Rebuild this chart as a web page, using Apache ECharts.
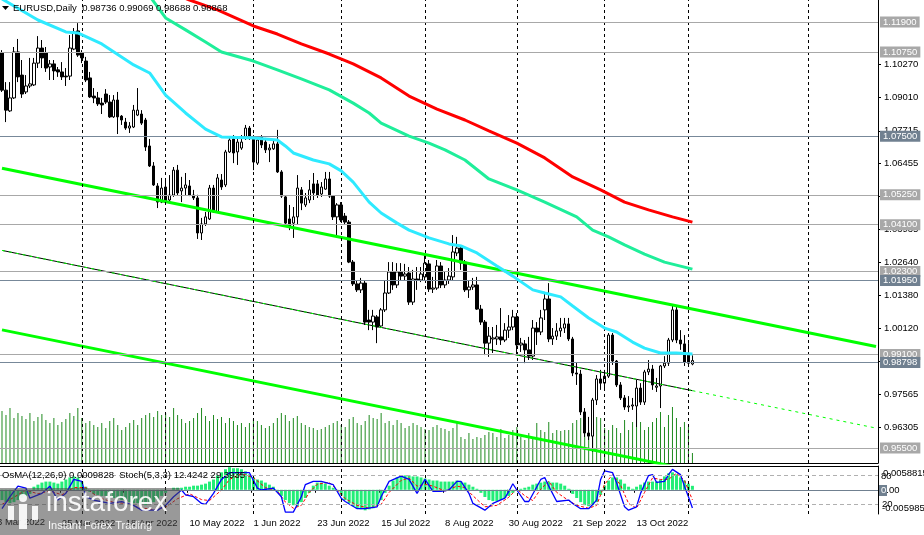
<!DOCTYPE html>
<html><head><meta charset="utf-8">
<script src="https://cdn.jsdelivr.net/npm/echarts@6/dist/echarts.min.js"></script>
<style>html,body{margin:0;padding:0;background:#fff;overflow:hidden}#c{width:924px;height:535px}</style>
</head><body><div id="c"></div><script>
// ---------- DATA ----------
const opens=[1.1071,1.0928,1.0848,1.0898,1.1075,1.0986,1.0921,1.0944,1.0948,1.1032,
1.1090,1.1071,1.1017,1.1029,1.1006,1.0998,1.0982,1.0982,1.1086,1.1156,
1.1071,1.1040,1.0975,1.0905,1.0898,1.0878,1.0913,1.0882,1.0825,1.0890,
1.0828,1.0805,1.0782,1.0786,1.0832,1.0836,1.0813,1.0713,1.0636,1.0559,
1.0497,1.0555,1.0505,1.0524,1.0620,1.0540,1.0551,1.0559,1.0524,1.0513,
1.0378,1.0413,1.0432,1.0551,1.0459,1.0582,1.0563,1.0690,1.0740,1.0690,
1.0705,1.0744,1.0782,1.0744,1.0647,1.0748,1.0728,1.0698,1.0702,1.0721,
1.0613,1.0517,1.0432,1.0416,1.0440,1.0544,1.0486,1.0505,1.0567,1.0567,
1.0528,1.0547,1.0586,1.0520,1.0440,1.0486,1.0443,1.0420,1.0266,1.0182,
1.0159,1.0185,1.0043,1.0035,1.0055,1.0020,1.0082,1.0147,1.0228,1.0178,
1.0228,1.0212,1.0224,1.0112,1.0201,1.0197,1.0209,1.0259,1.0162,1.0166,
1.0251,1.0178,1.0197,1.0209,1.0301,1.0320,1.0266,1.0159,1.0170,1.0178,
1.0085,1.0035,0.9954,0.9970,0.9970,0.9978,0.9966,1.0004,1.0016,1.0055,
0.9947,0.9951,0.9928,0.9904,1.0012,0.9997,1.0082,1.0124,0.9970,0.9981,
1.0001,1.0012,1.0028,0.9970,0.9839,0.9835,0.9689,0.9608,0.9596,0.9735,
0.9816,0.9800,0.9827,0.9985,0.9885,0.9793,0.9743,0.9708,0.9712,0.9712,
0.9781,0.9727,0.9843,0.9854,0.9784,0.9789,0.9866,0.9877,0.9966,1.0082,
0.9966,0.9951,0.9912,0.98736];
const closes=[1.0928,1.0851,1.0898,1.1075,1.0979,1.0913,1.0944,1.0952,1.1032,1.1090,
1.1052,1.1013,1.1029,1.1002,1.0998,1.0979,1.0979,1.1090,1.1152,1.1063,
1.1052,1.0967,1.0902,1.0898,1.0875,1.0871,1.0882,1.0825,1.0890,1.0825,
1.0813,1.0782,1.0790,1.0851,1.0851,1.0801,1.0709,1.0636,1.0563,1.0497,
1.0551,1.0497,1.0524,1.0620,1.0532,1.0551,1.0563,1.0524,1.0513,1.0378,
1.0413,1.0440,1.0551,1.0459,1.0590,1.0555,1.0690,1.0736,1.0686,1.0728,
1.0728,1.0782,1.0744,1.0651,1.0736,1.0717,1.0698,1.0705,1.0721,1.0613,
1.0520,1.0416,1.0405,1.0440,1.0551,1.0493,1.0513,1.0544,1.0532,1.0524,
1.0555,1.0586,1.0520,1.0440,1.0486,1.0428,1.0420,1.0266,1.0182,1.0159,
1.0185,1.0035,1.0035,1.0058,1.0016,1.0082,1.0147,1.0228,1.0178,1.0228,
1.0212,1.0220,1.0112,1.0201,1.0197,1.0220,1.0262,1.0162,1.0166,1.0251,
1.0178,1.0197,1.0212,1.0305,1.0320,1.0262,1.0159,1.0170,1.0178,1.0085,
1.0035,0.9954,0.9981,0.9974,0.9978,0.9966,1.0004,1.0016,1.0055,0.9947,
0.9954,0.9928,0.9904,1.0012,0.9997,1.0051,1.0124,0.9970,0.9981,1.0001,
1.0012,1.0028,0.9970,0.9839,0.9835,0.9689,0.9608,0.9596,0.9735,0.9816,
0.9800,0.9827,0.9985,0.9885,0.9793,0.9743,0.9708,0.9712,0.9716,0.9781,
0.9727,0.9843,0.9854,0.9793,0.9789,0.9866,0.9877,0.9966,1.0082,0.9966,
0.9951,0.9881,0.9877,0.98868];
const highs=[1.1082,1.0959,1.0959,1.1094,1.1125,1.1044,1.0986,1.1052,1.1052,1.1136,
1.1121,1.1094,1.1044,1.1044,1.1017,1.1036,1.1013,1.1140,1.1167,1.1186,
1.1082,1.1056,1.0998,1.0936,1.0921,1.0898,1.0932,1.0909,1.0909,1.0921,
1.0832,1.0821,1.0805,1.0871,1.0936,1.0851,1.0821,1.0740,1.0651,1.0570,
1.0590,1.0582,1.0601,1.0632,1.0640,1.0594,1.0609,1.0582,1.0544,1.0525,
1.0436,1.0459,1.0563,1.0563,1.0605,1.0605,1.0698,1.0748,1.0755,1.0748,
1.0755,1.0794,1.0790,1.0755,1.0744,1.0755,1.0744,1.0720,1.0736,1.0775,
1.0620,1.0524,1.0486,1.0478,1.0601,1.0555,1.0532,1.0582,1.0609,1.0582,
1.0574,1.0613,1.0613,1.0524,1.0493,1.0497,1.0455,1.0428,1.0274,1.0197,
1.0205,1.0197,1.0082,1.0082,1.0062,1.0089,1.0197,1.0266,1.0266,1.0262,
1.0262,1.0259,1.0247,1.0236,1.0247,1.0247,1.0293,1.0274,1.0209,1.0274,
1.0266,1.0228,1.0243,1.0370,1.0363,1.0332,1.0274,1.0197,1.0205,1.0209,
1.0101,1.0043,1.0016,1.0016,1.0024,1.0089,1.0031,1.0062,1.0082,1.0070,
0.9974,0.9966,0.9978,1.0043,1.0035,1.0082,1.0151,1.0185,1.0012,1.0031,
1.0051,1.0051,1.0051,0.9978,0.9881,0.9851,0.9704,0.9670,0.9743,0.9831,
0.9851,0.9851,0.9993,0.9993,0.9889,0.9804,0.9754,0.9750,0.9743,0.9812,
0.9800,0.9851,0.9889,0.9870,0.9820,0.9870,0.9904,0.9974,1.0101,1.0093,
1.0004,0.9985,0.9954,0.99069];
const lows=[1.0921,1.0805,1.0844,1.0894,1.0959,1.0898,1.0913,1.0936,1.0944,1.1013,
1.1013,1.0998,1.0967,1.0967,1.0979,1.0967,1.0944,1.0967,1.1082,1.1056,
1.1032,1.0959,1.0898,1.0878,1.0867,1.0836,1.0875,1.0821,1.0821,1.0759,
1.0794,1.0775,1.0763,1.0782,1.0828,1.0794,1.0694,1.0632,1.0559,1.0474,
1.0493,1.0486,1.0497,1.0517,1.0524,1.0497,1.0524,1.0520,1.0505,1.0355,
1.0351,1.0405,1.0428,1.0455,1.0455,1.0544,1.0555,1.0686,1.0647,1.0640,
1.0698,1.0736,1.0736,1.0620,1.0640,1.0705,1.0686,1.0651,1.0698,1.0609,
1.0513,1.0409,1.0389,1.0359,1.0409,1.0466,1.0478,1.0493,1.0505,1.0513,
1.0517,1.0544,1.0513,1.0428,1.0370,1.0420,1.0409,1.0262,1.0174,1.0151,
1.0147,1.0024,1.0004,1.0004,0.9954,1.0012,1.0074,1.0143,1.0159,1.0166,
1.0197,1.0197,1.0101,1.0101,1.0159,1.0189,1.0197,1.0151,1.0147,1.0159,
1.0166,1.0166,1.0182,1.0197,1.0289,1.0236,1.0151,1.0128,1.0159,1.0082,
1.0024,0.9908,0.9901,0.9916,0.9947,0.9947,0.9958,0.9974,1.0004,0.9908,
0.9920,0.9877,0.9889,0.9889,0.9947,0.9985,1.0043,0.9958,0.9947,0.9966,
0.9978,0.9993,0.9962,0.9827,0.9793,0.9677,0.9593,0.9581,0.9535,0.9716,
0.9774,0.9774,0.9820,0.9870,0.9785,0.9735,0.9697,0.9689,0.9697,0.9631,
0.9716,0.9716,0.9831,0.9774,0.9766,0.9704,0.9858,0.9866,0.9958,0.9954,
0.9928,0.9866,0.9866,0.98688];
// tick volumes
const volumes=[52000,48000,55000,45000,50000,47000,44000,50000,42000,46000,
49000,43000,40000,45000,38000,41000,44000,50000,47000,55000,
45000,40000,42000,38000,36000,40000,35000,42000,45000,38000,
33000,36000,40000,43000,38000,45000,48000,50000,46000,52000,
48000,50000,46000,55000,48000,44000,40000,42000,45000,50000,
55000,47000,42000,48000,44000,46000,40000,45000,42000,38000,
40000,36000,40000,44000,42000,38000,35000,37000,40000,45000,
50000,48000,42000,45000,47000,40000,38000,36000,35000,33000,
34000,36000,38000,40000,42000,38000,36000,44000,46000,40000,
38000,42000,48000,45000,44000,50000,40000,42000,38000,43000,
40000,35000,37000,40000,38000,36000,34000,33000,36000,38000,
35000,34000,32000,35000,40000,26000,24000,30000,24000,26000,
25000,28000,31000,30000,26000,34000,25000,28000,33000,36000,
26000,23000,30000,25000,40000,33000,31000,41000,30000,33000,
32000,33000,33000,40000,43000,45000,48000,33000,53000,46000,
45000,35000,33000,38000,35000,30000,43000,33000,41000,50000,
41000,33000,36000,41000,45000,51000,36000,48000,56000,45000,
36000,41000,36000,10000];

// moving averages: [bar index, price]
const maFast=[[0,1.1279],[9,1.1198],[16,1.1152],[19,1.1148],[25,1.1106],[33,1.1025],[37,1.0994],[41,1.0909],[46,1.0840],[51,1.0778],[55,1.0748],[63,1.0744],[69,1.0736],[71,1.0713],[73,1.0686],[78,1.0659],[82,1.0644],[85,1.0617],[88,1.0574],[92,1.0497],[95,1.0455],[99,1.0416],[102,1.0389],[107,1.0359],[112,1.0336],[115,1.0328],[119,1.0301],[124,1.0251],[128,1.0212],[133,1.0159],[136,1.0147],[140,1.0132],[143,1.0097],[147,1.0051],[151,1.0012],[154,0.9997],[158,0.9958],[161,0.9935],[165,0.9916],[169,0.9916],[173,0.9912]];
const maMid=[[37,1.1290],[41,1.1206],[46,1.1160],[51,1.1113],[55,1.1075],[63,1.1040],[69,1.1006],[75,1.0971],[82,1.0929],[88,1.0878],[92,1.0840],[95,1.0801],[102,1.0751],[107,1.0724],[111,1.0698],[116,1.0659],[122,1.0586],[129,1.0544],[136,1.0497],[144,1.0440],[148,1.0389],[152,1.0363],[156,1.0332],[161,1.0297],[166,1.0266],[173,1.0239]];
const maSlow=[[45,1.1287],[47,1.1275],[54,1.1237],[63,1.1175],[69,1.1144],[75,1.1106],[82,1.1067],[88,1.1029],[95,1.0975],[102,1.0905],[109,1.0855],[116,1.0813],[122,1.0771],[129,1.0724],[136,1.0667],[143,1.0594],[150,1.0544],[156,1.0497],[162,1.0467],[168,1.0440],[173,1.0420]];

// channel lines: [bar index, price]
const chanUpper=[[0,1.0627],[219,0.9941]];
const chanMid=[[0,1.0311],[173,0.9771]];
const chanMidExt=[[173,0.9771],[219,0.9627]];
const chanLower=[[0,1.0005],[219,0.9321]];

// horizontal levels
const levels=[1.11900,1.10750,1.07500,1.05250,1.04100,1.02300,1.01950,0.99100,0.98798,0.95500];
const levelSlate=[false,false,true,false,false,false,true,false,true,false];
const priceTicks=[1.11530,1.10270,1.09010,1.07715,1.06455,1.05195,1.03935,1.02640,1.01380,1.00120,0.98860,0.97565,0.96305,0.95045];
const monthStarts=[20,41,63,85,106,129,151,172,202];

// OsMA histogram
const osma=[-0.00254,-0.00305,-0.0033,-0.00305,-0.00254,-0.00203,-0.00152,-0.00102,
0.00076,0.00127,0.00178,0.00203,0.00203,0.00178,0.00152,0.00203,
0.00254,0.00305,0.0033,0.00305,0.00203,
0.00076,-0.00051,-0.00102,-0.00127,-0.00152,-0.00152,-0.00178,
-0.00203,-0.00229,-0.00254,-0.00279,-0.00305,-0.0033,-0.0033,-0.00356,-0.00381,-0.00356,-0.00305,-0.00254,-0.00152,
-0.00076,0,0.00051,0.00051,
0.00051,0.00076,0.00076,0.00102,
0.00102,0.00127,0.00152,0.00203,0.00254,
0.00356,0.00432,0.00508,0.00559,0.00533,
0.00533,0.00508,0.00457,0.00381,
0.00305,0.00254,0.00229,0.00178,0.00127,0.00076,
-0.00051,-0.00152,-0.00254,-0.0033,-0.00381,
-0.00406,-0.00305,-0.00203,-0.00076,
0.00102,0.00178,0.00178,0.00152,0.00102,
0.00051,-0.00025,
-0.00127,-0.00254,-0.0033,-0.00406,
-0.00457,-0.00483,-0.00508,-0.00483,-0.00457,-0.00381,
-0.00254,-0.00076,
0.00102,0.00229,0.00305,0.0033,
0.00356,0.00356,0.0033,0.0033,0.00305,0.00279,
0.00254,0.00229,0.00229,0.00203,0.00203,0.00203,0.00203,0.00229,0.00203,
0.00178,0.00127,0.00076,0.00025,
-0.00076,-0.00178,-0.00254,-0.00279,
-0.00279,-0.00254,-0.00203,-0.00152,-0.00076,
0,0.00025,0.00051,
0.00076,0.00127,0.00152,0.00178,
0.00203,0.00203,0.00178,0.00178,0.00152,0.00102,0.00025,
-0.00102,-0.00203,-0.00305,-0.00381,-0.00406,-0.00381,-0.00305,-0.00127,
0.00102,0.00229,0.00305,0.00305,0.00254,
0.00152,0.00076,0.00025,
0.00076,0.00127,0.00178,0.00203,0.00203,0.00203,
0.00254,0.0033,0.00406,0.00432,
0.00381,0.00305,0.00229,0.00152,0.00098];
// Stochastic main / signal: [bar index, value]
const stochMain=[[0,11],[2,36],[4,58],[6,54],[7,33],[10,43],[12,58],[14,29],[16,43],[18,72],[20,68],[21,36],[23,29],[27,22],[30,26],[33,18],[35,8],[39,8],[41,18],[43,36],[45,50],[46,40],[48,36],[50,22],[51,20],[53,43],[55,72],[57,86],[60,86],[62,86],[64,54],[65,50],[68,54],[70,36],[71,4],[73,4],[75,36],[76,61],[78,68],[80,68],[83,61],[85,33],[86,26],[89,11],[91,11],[94,15],[95,36],[97,68],[100,79],[102,72],[104,43],[105,58],[106,72],[108,47],[110,47],[112,50],[114,68],[115,68],[117,43],[118,22],[121,8],[123,22],[126,33],[127,47],[128,63],[129,50],[131,26],[132,26],[135,72],[136,76],[137,58],[139,26],[142,29],[143,22],[145,11],[147,11],[149,29],[150,72],[151,90],[153,86],[154,65],[156,15],[157,8],[159,15],[160,43],[162,80],[163,82],[164,66],[166,68],[167,82],[168,93],[170,82],[171,58],[172,36],[173,12.4]];
const stochSignal=[[0,20],[3,35],[6,50],[9,42],[12,48],[15,40],[18,55],[21,55],[24,35],[28,24],[31,22],[34,14],[38,9],[41,14],[44,32],[47,42],[50,30],[52,28],[55,50],[57,72],[60,84],[63,76],[66,55],[69,48],[71,25],[73,12],[75,18],[77,45],[79,62],[82,66],[84,50],[86,32],[89,18],[92,12],[95,20],[97,45],[100,70],[102,75],[104,58],[106,62],[108,58],[111,48],[114,58],[116,55],[118,38],[121,15],[124,18],[127,35],[129,52],[131,38],[133,28],[135,52],[137,68],[139,45],[142,28],[144,18],[147,12],[149,18],[151,62],[153,82],[155,60],[157,22],[159,12],[161,45],[163,75],[165,72],[167,72],[169,85],[171,70],[173,29.4]];

// ---------- CATEGORIES (trading days) ----------
const SLOTS=220;
const MONTHS=['Jan','Feb','Mar','Apr','May','Jun','Jul','Aug','Sep','Oct','Nov','Dec'];
const categories=[];
(function(){let d=new Date(Date.UTC(2022,2,4));
 while(categories.length<opens.length){const w=d.getUTCDay();if(w!==0&&w!==6)categories.push(d.getUTCDate()+' '+MONTHS[d.getUTCMonth()]+' '+d.getUTCFullYear());d.setUTCDate(d.getUTCDate()+1);}
 while(categories.length<SLOTS)categories.push('f'+categories.length);})();

const FONT='"Liberation Sans", Arial, sans-serif';
const candleData=opens.map((o,i)=>[o,closes[i],lows[i],highs[i]]);

const levelLines=levels.map((v,k)=>({yAxis:v,
  lineStyle:{color:levelSlate[k]?'#778899':'#a8a8a8',width:1,type:'solid'},
  label:{show:true,position:'end',distance:2,formatter:()=>v.toFixed(5),color:'#fff',
    backgroundColor:levelSlate[k]?'#708090':'#a8a8a8',padding:[1,3,0,3],fontSize:9.5,fontFamily:FONT}}));

const vLines=monthStarts.map(i=>({xAxis:i}));
const vLineStyle={color:'#000',width:1,type:[3,3]};

const chart=echarts.init(document.getElementById('c'),null,{renderer:'canvas'});
chart.setOption({
 animation:false,
 backgroundColor:'#fff',
 textStyle:{fontFamily:FONT},
 grid:[{left:0,top:0,width:878,height:463},{left:0,top:466,width:878,height:48}],
 xAxis:[
  {type:'category',gridIndex:0,data:categories,boundaryGap:true,
   axisLine:{show:true,lineStyle:{color:'#000'}},axisTick:{show:false},axisLabel:{show:false},splitLine:{show:false}},
  {type:'category',gridIndex:1,data:categories,boundaryGap:true,
   axisLine:{show:true,lineStyle:{color:'#000'}},
   axisTick:{show:true,length:3,interval:(i)=>i<=159&&(i-15)%16===0,lineStyle:{color:'#000'}},
   axisLabel:{show:true,interval:(i)=>i<=159&&(i-15)%16===0,align:'left',margin:4,color:'#000',fontSize:9.5,fontFamily:FONT},
   splitLine:{show:false}}
 ],
 yAxis:[
  {type:'value',gridIndex:0,position:'right',min:0.94925,max:1.1275,scale:true,
   axisLine:{show:true,lineStyle:{color:'#000'}},
   axisTick:{show:true,length:3,inside:false,customValues:priceTicks,lineStyle:{color:'#000'}},
   axisLabel:{show:true,customValues:priceTicks,formatter:(v)=>v.toFixed(5),color:'#000',fontSize:9.5,fontFamily:FONT,margin:6,showMinLabel:false,showMaxLabel:false},
   splitLine:{show:false}},
  {type:'value',gridIndex:1,position:'right',min:-0.005985,max:0.0058815,
   axisLine:{show:true,lineStyle:{color:'#000'}},axisTick:{show:false},axisLabel:{show:false},splitLine:{show:false}},
  {type:'value',gridIndex:1,position:'right',min:0,max:100,show:false},
  {type:'value',gridIndex:0,position:'left',min:0,max:463000,show:false}
 ],
 series:[
  {type:'bar',xAxisIndex:0,yAxisIndex:3,data:volumes,barWidth:1,itemStyle:{color:'#1f8a1f'},z:1,silent:true},
  {type:'line',xAxisIndex:0,yAxisIndex:0,data:[],silent:true,
   markLine:{silent:true,symbol:['none','none'],label:{show:false},lineStyle:vLineStyle,data:vLines}},
  {type:'candlestick',xAxisIndex:0,yAxisIndex:0,data:candleData,barWidth:3,z:3,
   itemStyle:{color:'#fff',color0:'#000',borderColor:'#000',borderColor0:'#000',borderWidth:1},
   markLine:{silent:true,symbol:['none','none'],precision:5,data:levelLines}},
  {type:'line',xAxisIndex:0,yAxisIndex:0,data:chanUpper,showSymbol:false,lineStyle:{color:'#00ff00',width:3},z:4},
  {type:'line',xAxisIndex:0,yAxisIndex:0,data:chanLower,showSymbol:false,lineStyle:{color:'#00ff00',width:3},z:4},
  {type:'line',xAxisIndex:0,yAxisIndex:0,data:chanMid,showSymbol:false,lineStyle:{color:'#000',width:1},z:4},
  {type:'line',xAxisIndex:0,yAxisIndex:0,data:chanMid,showSymbol:false,lineStyle:{color:'#00ff00',width:1,type:[3,4]},z:4},
  {type:'line',xAxisIndex:0,yAxisIndex:0,data:chanMidExt,showSymbol:false,lineStyle:{color:'#00ff00',width:1,type:[3,4]},z:4},
  {type:'line',xAxisIndex:0,yAxisIndex:0,data:maFast,showSymbol:false,connectNulls:true,lineStyle:{color:'#2eeaff',width:3},z:5},
  {type:'line',xAxisIndex:0,yAxisIndex:0,data:maMid,showSymbol:false,connectNulls:true,lineStyle:{color:'#1fee9a',width:3},z:5},
  {type:'line',xAxisIndex:0,yAxisIndex:0,data:maSlow,showSymbol:false,connectNulls:true,lineStyle:{color:'#ff0000',width:3},z:5},
  // sub window
  {type:'bar',xAxisIndex:1,yAxisIndex:1,data:osma,barWidth:3,itemStyle:{color:'#22ee77'},z:2,
   markLine:{silent:true,symbol:['none','none'],label:{show:false},
     data:[...vLines.map(v=>({xAxis:v.xAxis,lineStyle:vLineStyle})),{yAxis:0,lineStyle:{color:'#708090',width:1,type:'solid'}}]}},
  {type:'line',xAxisIndex:1,yAxisIndex:2,data:stochSignal,showSymbol:false,connectNulls:true,lineStyle:{color:'#ff0000',width:1,type:[3,2]},z:3,
   markLine:{silent:true,symbol:['none','none'],label:{show:false},lineStyle:{color:'#b0b0b0',width:1,type:[4,3]},data:[{yAxis:80},{yAxis:20}]}},
  {type:'line',xAxisIndex:1,yAxisIndex:2,data:stochMain,showSymbol:false,connectNulls:true,lineStyle:{color:'#0000ff',width:1.3},z:4}
 ],
 graphic:[
  {type:'line',shape:{x1:0,y1:466.5,x2:878,y2:466.5},style:{stroke:'#000',lineWidth:1},z:10},
  {type:'polygon',shape:{points:[[2,6],[9,6],[5.5,10]]},style:{fill:'#000'},z:10},
  {type:'text',x:13,y:3,style:{text:'EURUSD,Daily  0.98736 0.99069 0.98688 0.98868',font:'9.5px '+FONT,fill:'#000'},z:10},
  {type:'text',x:2,y:470,style:{text:'OsMA(12,26,9) 0.0009828  Stoch(5,3,3) 12.4242 29.3935',font:'9.5px '+FONT,fill:'#000'},z:10},
  {type:'text',x:883,y:468,style:{text:'0.0058815',font:'9.5px '+FONT,fill:'#000'},z:10},
  {type:'text',x:881,y:471,style:{text:'80',font:'9.5px '+FONT,fill:'#000'},z:10},
  {type:'rect',shape:{x:879,y:485,width:8,height:11},style:{fill:'#708090'},z:10},
  {type:'text',x:881,y:485.5,style:{text:'0',font:'9.5px '+FONT,fill:'#fff'},z:11},
  {type:'text',x:886.3,y:485.5,style:{text:'.00',font:'9.5px '+FONT,fill:'#000'},z:11},
  {type:'text',x:882,y:499,style:{text:'20',font:'9.5px '+FONT,fill:'#000'},z:10},
  {type:'text',x:882,y:503,style:{text:'-0.005985',font:'9.5px '+FONT,fill:'#000'},z:10},
  {type:'text',x:-3,y:517,style:{text:'3 Mar 2022',font:'9.5px '+FONT,fill:'#000'},z:10},
  // watermark
  {type:'rect',shape:{x:0,y:488,width:180,height:47},style:{fill:'rgba(70,70,70,0.55)'},z:20},
  {type:'text',x:46,y:489,style:{text:'instaforex',font:'28px '+FONT,fill:'rgba(255,255,255,0.92)'},z:21},
  {type:'text',x:48,y:520,style:{text:'Instant Forex Trading',font:'11px '+FONT,fill:'rgba(255,255,255,0.92)'},z:21},
  {type:'circle',shape:{cx:23,cy:498,r:4},style:{fill:'rgba(255,255,255,0.9)'},z:21},
  {type:'rect',shape:{x:19,y:504,width:8,height:25},style:{fill:'rgba(255,255,255,0.9)'},z:21},
  {type:'rect',shape:{x:8,y:506,width:6,height:14},style:{fill:'rgba(255,255,255,0.9)'},z:21},
  {type:'rect',shape:{x:32,y:506,width:6,height:14},style:{fill:'rgba(255,255,255,0.9)'},z:21}
 ]
});
</script></body></html>
